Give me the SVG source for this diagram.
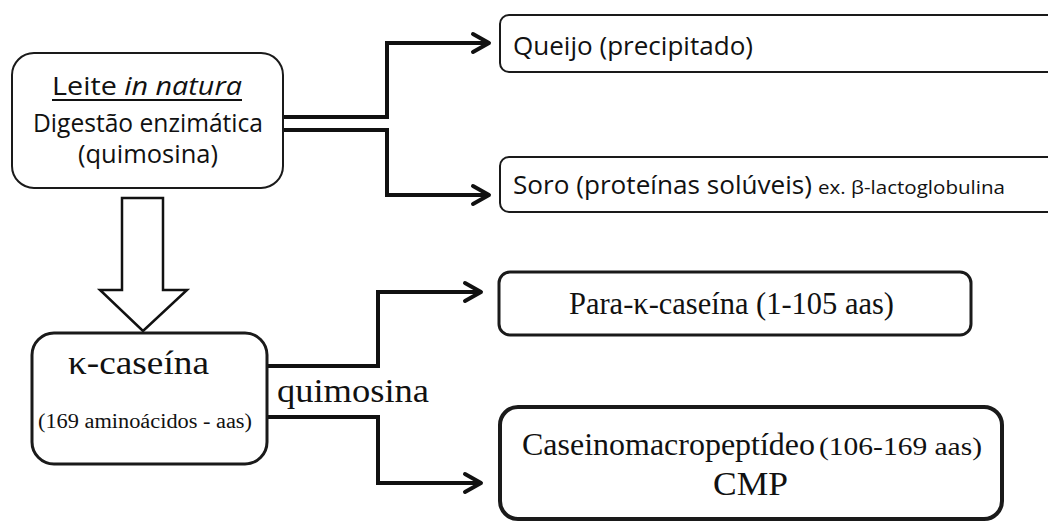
<svg xmlns="http://www.w3.org/2000/svg" width="1048" height="522" viewBox="0 0 1048 522">
<style>
.box{fill:#fff;stroke:#1a1a1a}
.sans{font-family:"Open Sans","Noto Sans",sans-serif;fill:#111}
.serif{font-family:"Liberation Serif","Times New Roman",serif;fill:#111}
.conn{fill:none;stroke:#111;stroke-width:4;stroke-linejoin:miter}
.head{fill:none;stroke:#111;stroke-width:4;stroke-linecap:round;stroke-linejoin:round}
</style>
<rect width="1048" height="522" fill="#fff"/>
<g id="connectors">
<path class="conn" d="M283,117 H387 V43 H488"/>
<path class="head" d="M473,34 L489,43 L473,52"/>
<path class="conn" d="M283,130 H387 V195 H488"/>
<path class="head" d="M473,186 L489,195 L473,204"/>
<path class="conn" d="M268,366 H378 V292 H480"/>
<path class="head" d="M465,283 L481,292 L465,301"/>
<path class="conn" d="M268,417 H378 V483 H480"/>
<path class="head" d="M465,474 L481,483 L465,492"/>
<polygon points="122,198 163,198 163,290 187,290 143,331 100,290 122,290" fill="#fff" stroke="#111" stroke-width="2.5" stroke-linejoin="miter"/>
<text class="serif" x="277" y="402" font-size="34" textLength="152" lengthAdjust="spacingAndGlyphs">quimosina</text>
</g>
<g id="node-leite">
<rect class="box" x="12" y="53" width="271" height="135" rx="22" stroke-width="2"/>
<text class="sans" x="52" y="95" font-size="25" textLength="190" lengthAdjust="spacingAndGlyphs">Leite <tspan font-style="italic">in natura</tspan></text>
<line x1="52" y1="100" x2="242" y2="100" stroke="#111" stroke-width="1.8"/>
<text class="sans" x="33" y="132" font-size="25" textLength="230" lengthAdjust="spacingAndGlyphs">Digestão enzimática</text>
<text class="sans" x="78" y="163" font-size="25" textLength="140" lengthAdjust="spacingAndGlyphs">(quimosina)</text>
</g>
<g id="node-queijo">
<rect class="box" x="500" y="15" width="600" height="57" rx="9" stroke-width="2"/>
<text class="sans" x="513" y="55" font-size="26" textLength="240" lengthAdjust="spacingAndGlyphs">Queijo (precipitado)</text>
</g>
<g id="node-soro">
<rect class="box" x="500" y="157" width="600" height="55" rx="9" stroke-width="2"/>
<text class="sans" x="513" y="194" font-size="26" textLength="299" lengthAdjust="spacingAndGlyphs">Soro (proteínas solúveis)</text>
<text class="sans" x="818" y="194" font-size="19" textLength="187" lengthAdjust="spacingAndGlyphs">ex. β-lactoglobulina</text>
</g>
<g id="node-kcaseina">
<rect class="box" x="32" y="333" width="235" height="131" rx="22" stroke-width="3"/>
<text class="serif" x="68" y="374" font-size="34" textLength="141" lengthAdjust="spacingAndGlyphs">κ-caseína</text>
<text class="serif" x="38" y="428" font-size="20" textLength="214" lengthAdjust="spacingAndGlyphs">(169 aminoácidos - aas)</text>
</g>
<g id="node-para">
<rect class="box" x="499" y="272" width="472" height="63" rx="11" stroke-width="3"/>
<text class="serif" x="569" y="314" font-size="31" textLength="325" lengthAdjust="spacingAndGlyphs">Para-κ-caseína (1-105 aas)</text>
</g>
<g id="node-cmp">
<rect class="box" x="500" y="407" width="502" height="112" rx="18" stroke-width="4"/>
<text class="serif" x="522" y="455" font-size="31" textLength="293" lengthAdjust="spacingAndGlyphs">Caseinomacropeptídeo</text>
<text class="serif" x="819" y="455" font-size="25" textLength="163" lengthAdjust="spacingAndGlyphs">(106-169 aas)</text>
<text class="serif" x="713" y="495" font-size="34" textLength="75" lengthAdjust="spacingAndGlyphs">CMP</text>
</g>
</svg>
